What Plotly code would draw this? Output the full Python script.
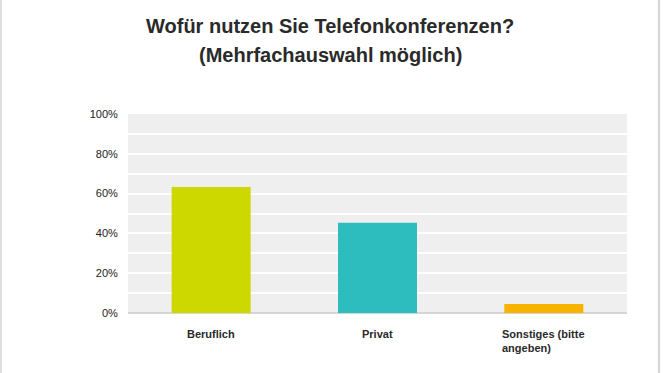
import plotly.graph_objects as go

categories = ["Beruflich", "Privat", "Sonstiges (bitte angeben)"]
category_labels = ["Beruflich", "Privat", "Sonstiges (bitte<br>angeben)"]
values = [63.3, 45.4, 4.5]
colors = ["#cdd800", "#2dbdbe", "#f7b300"]
y_tickvals = [0, 20, 40, 60, 80, 100]
y_ticktext = ["0%", "20%", "40%", "60%", "80%", "100%"]
title_lines = ["Wofür nutzen Sie Telefonkonferenzen?", "(Mehrfachauswahl möglich)"]

FONT = "Liberation Sans, Arial, Helvetica, sans-serif"

fig = go.Figure()
fig.add_trace(go.Bar(
    x=categories, y=values,
    marker=dict(color=colors, line=dict(width=0)),
    hoverinfo="skip",
))

annotations = []
for cat, lab in zip(categories, category_labels):
    annotations.append(dict(
        x=cat, y=0, xref="x", yref="paper", yanchor="top", xanchor="center",
        yshift=-13, text="<b>" + lab + "</b>", showarrow=False, align="left",
        font=dict(family=FONT, size=11, color="#2a2a2a"),
    ))
annotations.append(dict(x=0.405, y=1.51, xref="paper", yref="paper", yanchor="top",
                        xanchor="center", text="<b>" + title_lines[0] + "</b>", showarrow=False,
                        font=dict(family=FONT, size=20, color="#2a2a2a")))
annotations.append(dict(x=0.405, y=1.36, xref="paper", yref="paper", yanchor="top",
                        xanchor="center", text="<b>" + title_lines[1] + "</b>", showarrow=False,
                        font=dict(family=FONT, size=20, color="#2a2a2a")))

fig.update_layout(
    width=670, height=373,
    margin=dict(l=128, r=43, t=114, b=60),
    paper_bgcolor="white", plot_bgcolor="#efefef",
    showlegend=False, bargap=0.525,
    font=dict(family=FONT, size=11, color="#222222"),
    annotations=annotations,
    shapes=[
        dict(type="line", xref="paper", yref="paper", x0=1.064, x1=1.064, y0=-0.35, y1=1.65,
             line=dict(color="#d4d4d4", width=2)),
        dict(type="line", xref="paper", yref="paper", x0=-0.2545, x1=-0.2545, y0=-0.35, y1=1.65,
             line=dict(color="#d4d4d4", width=1.5)),
    ],
)
fig.update_xaxes(showticklabels=False, showgrid=False, zeroline=False, showline=False)
fig.update_yaxes(
    range=[0, 100], tickvals=y_tickvals, ticktext=y_ticktext,
    showgrid=True, gridcolor="white", gridwidth=1.5,
    minor=dict(dtick=10, tick0=0, showgrid=True, gridcolor="white", gridwidth=1.5),
    zeroline=True, zerolinecolor="#d6d6d6", zerolinewidth=2,
    ticks="outside", ticklen=7, tickcolor="rgba(0,0,0,0)",
    tickfont=dict(family=FONT, size=11, color="#222222"),
    showline=False,
)

fig.write_html(
    "out.html",
    config={"displayModeBar": False},
    post_script="document.body.style.margin='0';document.body.style.overflow='hidden';",
)
